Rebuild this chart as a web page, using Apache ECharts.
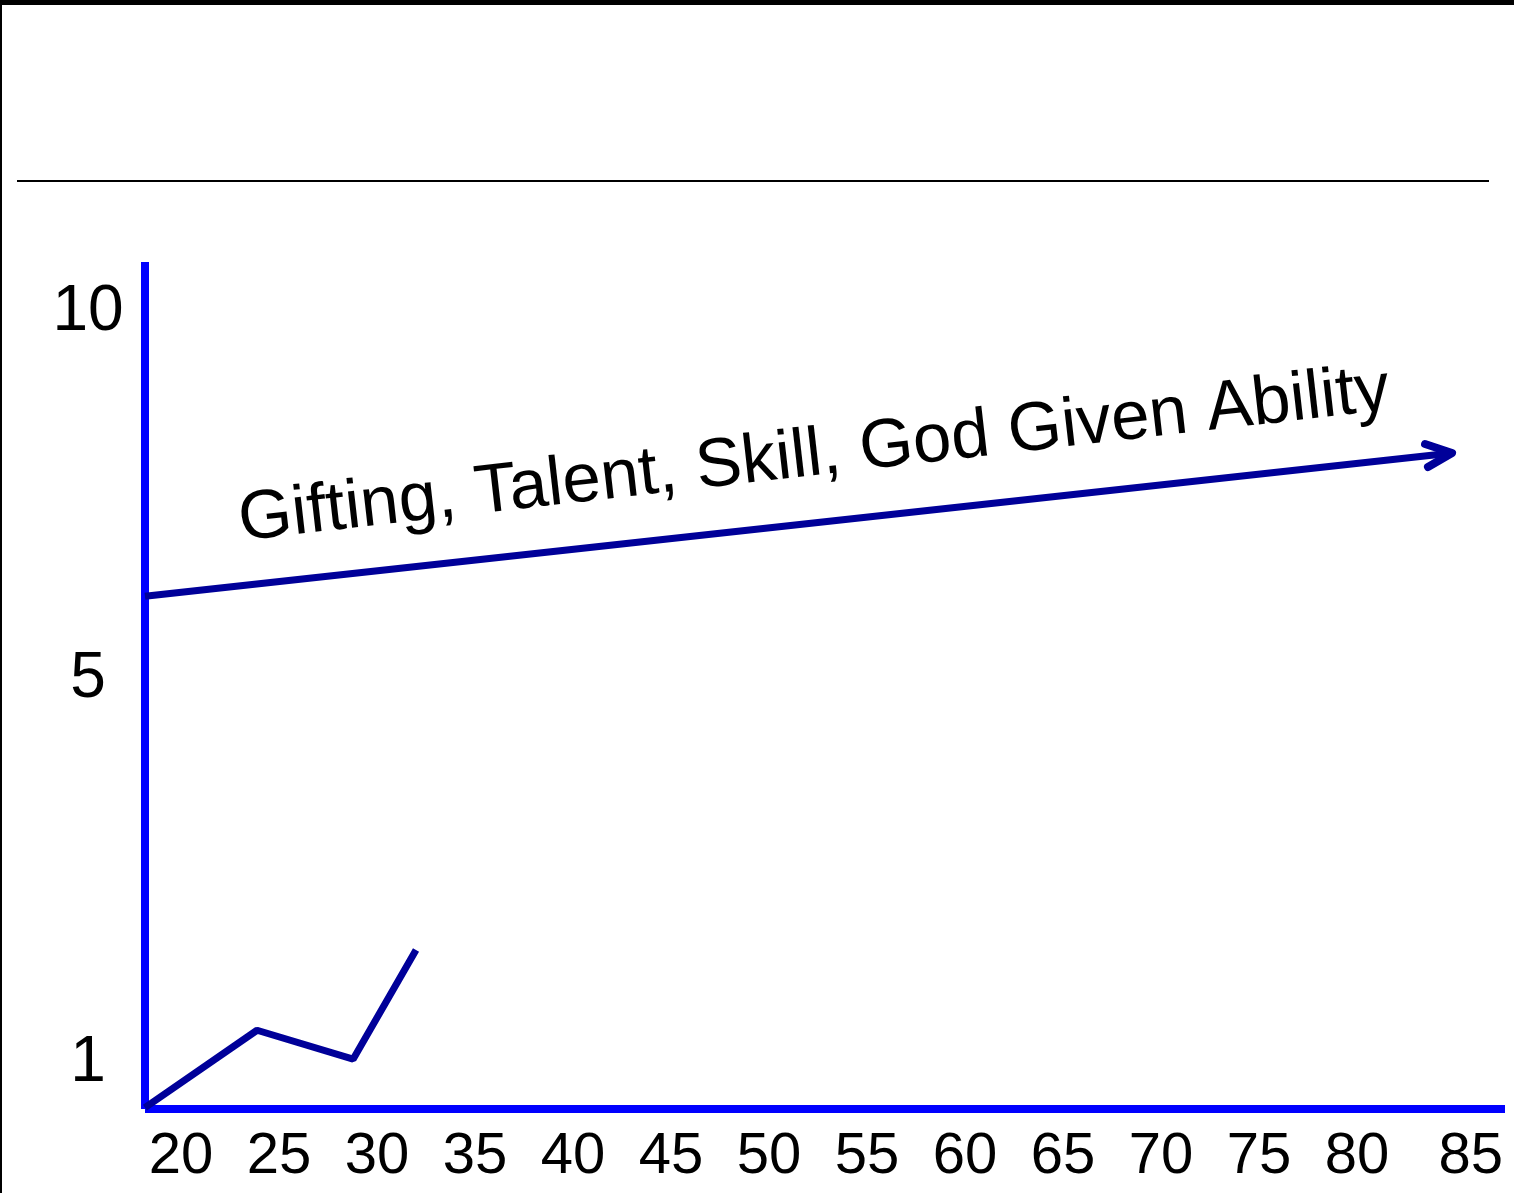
<!DOCTYPE html>
<html>
<head>
<meta charset="utf-8">
<script src="https://cdn.jsdelivr.net/npm/echarts@6/dist/echarts.min.js"></script>
<style>
  html, body { margin: 0; padding: 0; background: #fff; }
  #chart { width: 1514px; height: 1193px; }
</style>
</head>
<body>
<div id="chart"></div>
<script>
// x axis: age, y axis: level
const xTickValues = [20, 25, 30, 35, 40, 45, 50, 55, 60, 65, 70, 75, 80, 85.8];
const xTickLabels = ['20', '25', '30', '35', '40', '45', '50', '55', '60', '65', '70', '75', '80', '85'];
const yTickValues = [0.62, 5.78, 10.72];
const yTickLabels = ['1', '5', '10'];

// zigzag line near the bottom
const growthX = [18.16, 23.88, 28.78, 31.99];
const growthY = [0.02, 1.06, 0.67, 2.14];

// long arrow
const arrowX = [18.16, 84.85];
const arrowY = [6.9, 8.83];
const arrowHeadX = [83.47, 84.85, 83.62];
const arrowHeadY = [8.95, 8.83, 8.64];

const arrowText = 'Gifting, Talent, Skill, God Given Ability';
const textAnchor = [52.3, 8.79];

const pairs = (xs, ys) => xs.map((x, i) => [x, ys[i]]);

const chart = echarts.init(document.getElementById('chart'));

const lineColor = '#000099';
const axisColor = '#0000FF';
const font = 'Liberation Sans, Arial, sans-serif';

const option = {
    animation: false,
    backgroundColor: '#ffffff',
    grid: {
        left: 145,
        right: 9,
        top: 262,
        bottom: 84,
        containLabel: false,
        outerBoundsMode: 'none'
    },
    xAxis: {
        type: 'value',
        min: 18.163,
        max: 87.55,
        axisLine: {
            onZero: false,
            lineStyle: { color: axisColor, width: 8, cap: 'butt' }
        },
        axisTick: { show: false },
        splitLine: { show: false },
        axisLabel: {
            customValues: xTickValues,
            formatter: (v) => xTickLabels[xTickValues.indexOf(v)],
            color: '#000',
            fontSize: 58,
            fontFamily: font,
            margin: 19,
            showMinLabel: true,
            showMaxLabel: true
        }
    },
    yAxis: {
        type: 'value',
        min: 0,
        max: 11.4,
        axisLine: {
            show: true,
            onZero: false,
            lineStyle: { color: axisColor, width: 8, cap: 'butt' }
        },
        axisTick: { show: false },
        splitLine: { show: false },
        axisLabel: {
            customValues: yTickValues,
            formatter: (v) => yTickLabels[yTickValues.indexOf(v)],
            color: '#000',
            fontSize: 64,
            fontFamily: font,
            align: 'center',
            verticalAlign: 'middle',
            margin: 57
        }
    },
    series: [
        {
            name: 'growth',
            type: 'line',
            data: pairs(growthX, growthY),
            symbol: 'none',
            lineStyle: { color: lineColor, width: 7 }
        },
        {
            name: 'arrow',
            type: 'line',
            data: pairs(arrowX, arrowY),
            symbol: 'none',
            lineStyle: { color: lineColor, width: 7 }
        },
        {
            name: 'arrowHead',
            type: 'line',
            data: pairs(arrowHeadX, arrowHeadY),
            symbol: 'none',
            lineStyle: { color: lineColor, width: 8, cap: 'round', join: 'round' }
        }
    ]
};

chart.setOption(option);

// 幻灯片边框、标题线和斜着的文字
const p = chart.convertToPixel({ gridIndex: 0 }, textAnchor);
chart.setOption({
    graphic: [
        { type: 'rect', shape: { x: 0, y: 0, width: 1514, height: 5 }, style: { fill: '#000' } },
        { type: 'rect', shape: { x: 0, y: 0, width: 2, height: 1193 }, style: { fill: '#000' } },
        { type: 'line', shape: { x1: 17, y1: 181, x2: 1489, y2: 181 }, style: { stroke: '#000', lineWidth: 2 } },
        {
            type: 'text',
            x: p[0],
            y: p[1],
            rotation: 6.5 * Math.PI / 180,
            style: {
                text: arrowText,
                fontSize: 69,
                fontFamily: font,
                fill: '#000',
                align: 'center',
                verticalAlign: 'middle'
            }
        }
    ]
});

window.addEventListener('resize', () => chart.resize());
</script>
</body>
</html>
